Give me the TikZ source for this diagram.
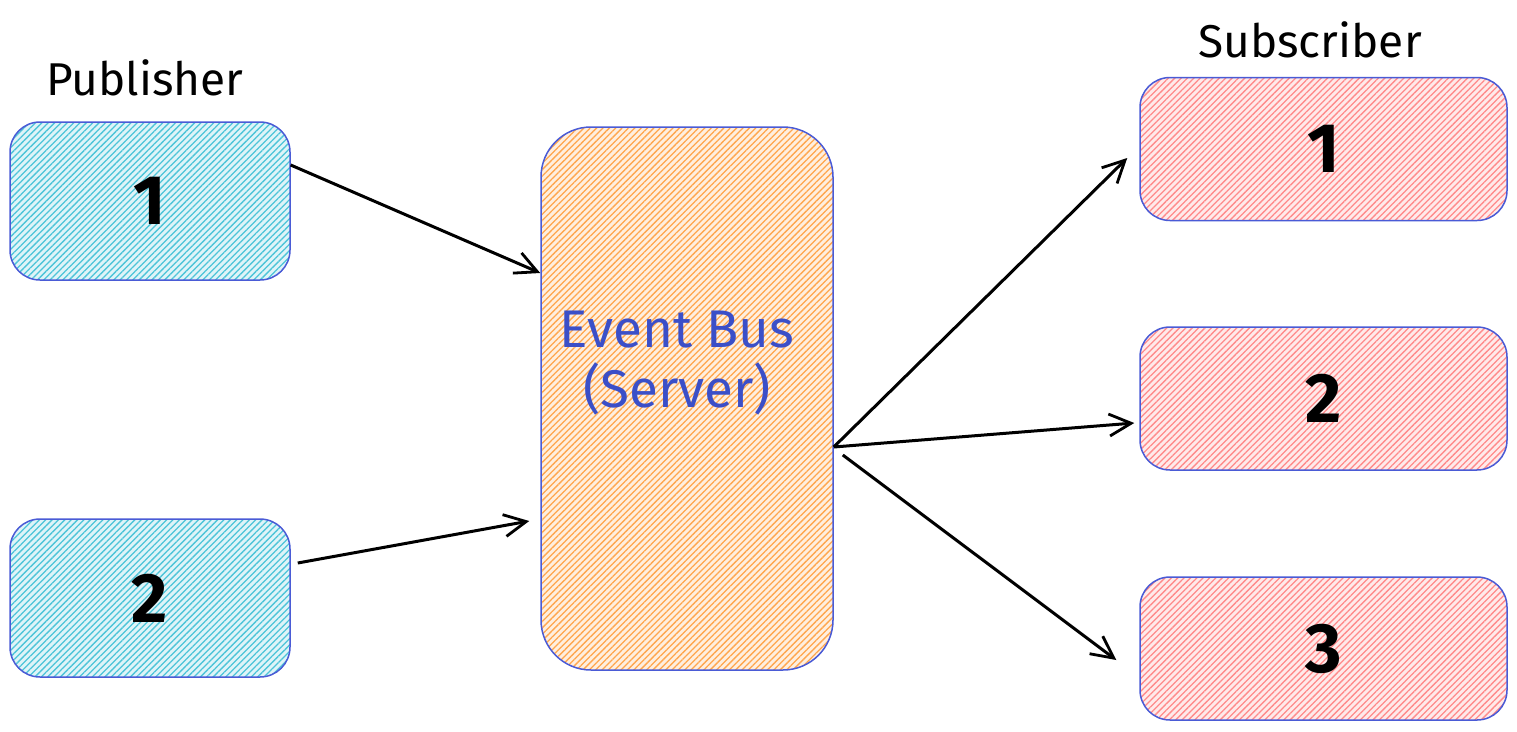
\documentclass[tikz,border=0pt]{standalone}
\usepackage{fontspec}
\setmainfont{Fira Sans}
\usetikzlibrary{arrows.meta,patterns.meta,calc}
\definecolor{edgeblue}{HTML}{4A5BD6}
\definecolor{textblue}{HTML}{3B4FC8}
\definecolor{tealh}{HTML}{4CC4D8}
\definecolor{orangeh}{HTML}{FFA64D}
\definecolor{redh}{HTML}{FF8A8A}
\tikzset{
  box/.style={draw=edgeblue, line width=1.5pt, rounded corners=30pt, inner sep=0pt,
    font=\fontsize{70}{70}\selectfont\bfseries, text=black},
  pubbox/.style={box, minimum width=280pt, minimum height=158pt,
    preaction={fill=tealh!18},
    pattern={Lines[angle=45,distance=4.5pt,line width=1.3pt]}, pattern color=tealh},
  subbox/.style={box, minimum width=367pt, minimum height=143pt,
    preaction={fill=redh!18},
    pattern={Lines[angle=45,distance=4.5pt,line width=1.3pt]}, pattern color=redh},
  busbox/.style={box, minimum width=292pt, minimum height=543pt, rounded corners=50pt,
    preaction={fill=orangeh!18},
    pattern={Lines[angle=45,distance=4.5pt,line width=1.3pt]}, pattern color=orangeh},
  heading/.style={font=\fontsize{46}{46}\selectfont, text=black, inner sep=0pt},
  bustxt/.style={font=\fontsize{53}{60}\selectfont, text=textblue, align=center, inner sep=0pt},
  arr/.style={draw=black, line width=3pt, -{Straight Barb[length=22pt,width=22pt,line width=2.8pt]}},
}
\begin{document}
\begin{tikzpicture}[x=1pt,y=-1pt]
\useasboundingbox (0,0) rectangle (1517,731);
\node[heading] (publabel) at (145,78) {Publisher};
\node[heading] (sublabel) at (1310,40) {Subscriber};
\node[pubbox] (pub1) at (150,201) {1};
\node[pubbox] (pub2) at (150,598) {2};
\node[busbox] (bus) at (687,398.5) {};
\node[bustxt] (bustext) at (677,363) {Event Bus\\(Server)};
\node[subbox] (sub1) at (1323.5,149) {1};
\node[subbox] (sub2) at (1323.5,398.5) {2};
\node[subbox] (sub3) at (1323.5,648.5) {3};
\draw[arr] ([shift={(0,-36)}]pub1.east) -- ([shift={(0,-125.5)}]bus.west);
\draw[arr] ([shift={(7,-35)}]pub2.east) -- ([shift={(-11,122.5)}]bus.west);
\draw[arr] ([shift={(0,48.5)}]bus.east) -- ([shift={(-12,9)}]sub1.west);
\draw[arr] ([shift={(0,48.5)}]bus.east) -- ([shift={(-5,24.5)}]sub2.west);
\draw[arr] ([shift={(9,56.5)}]bus.east) -- ([shift={(-23,11.5)}]sub3.west);
\end{tikzpicture}
\end{document}
